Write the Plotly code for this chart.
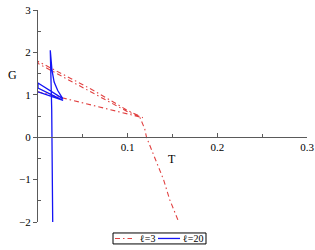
import plotly.graph_objects as go

# l=3 branch (red, dash-dot)
T_l3 = [0.156, 0.147, 0.140, 0.130, 0.121, 0.119, 0.115, 0.113, 0.100, 0.0614, 0.0,
        0.0, 0.0614, 0.100, 0.117, 0.0]
G_l3 = [-1.95, -1.48, -1.00, -0.45, 0.00, 0.20, 0.38, 0.50, 0.63, 1.11, 1.79,
        1.74, 1.04, 0.60, 0.46, 1.07]

# l=20 branch (blue, solid)
T_l20 = [0.0164, 0.0153, 0.0137, 0.0156, 0.0180, 0.0220, 0.0276, 0.0, 0.0, 0.0280, 0.0]
G_l20 = [-2.00, 0.64, 2.05, 1.58, 1.30, 1.10, 0.91, 1.28, 1.16, 0.87, 1.07]

x_ticks = [0.1, 0.2, 0.3]
x_ticklabels = ["0.1", "0.2", "0.3"]
y_ticks = [-2, -1, 0, 1, 2, 3]
y_ticklabels = ["\u22122", "\u22121", "0", "1", "2", "3"]
series_names = ["\u2113=3", "\u2113=20"]
series_colors = ["rgb(225,65,65)", "rgb(20,20,245)"]
series_dash = ["5px,3px,1.5px,3px", "solid"]
series_width = [1.1, 1.3]

font_family = "Liberation Serif, Times New Roman, serif"

W, H = 315, 250
ML, MR, MT, MB = 38, 8, 9.5, 28
PW, PH = W - ML - MR, H - MT - MB


def px2paper(px, py):
    return (px - ML) / PW, (H - MB - py) / PH


fig = go.Figure()
for T, G, nm, col, dsh, wd in zip([T_l3, T_l20], [G_l3, G_l20], series_names,
                                  series_colors, series_dash, series_width):
    fig.add_trace(go.Scatter(x=T, y=G, mode="lines", name=nm, showlegend=False,
                             line=dict(color=col, width=wd, dash=dsh)))

axis_col = "rgb(90,90,90)"
fig.update_layout(
    width=W, height=H,
    margin=dict(l=ML, r=MR, t=MT, b=MB, autoexpand=False),
    paper_bgcolor="white", plot_bgcolor="white",
    font=dict(family=font_family, size=11, color="black"),
    xaxis=dict(range=[0, 0.3], tickmode="array", tickvals=x_ticks, ticktext=x_ticklabels,
               showgrid=False, zeroline=False, showline=True, linecolor=axis_col, linewidth=1,
               anchor="free", position=0.4, ticks="inside", ticklen=4, tickcolor=axis_col,
               minor=dict(tickmode="array", tickvals=[0.05, 0.15, 0.25], ticks="inside",
                          ticklen=3, tickcolor=axis_col),
               tickfont=dict(size=11), automargin=False, ticklabeloverflow="allow",
               fixedrange=True),
    yaxis=dict(range=[-2, 3], tickmode="array", tickvals=y_ticks, ticktext=y_ticklabels,
               showgrid=False, zeroline=False, showline=True, linecolor=axis_col, linewidth=1,
               ticks="outside", ticklen=4, tickcolor=axis_col,
               minor=dict(tickmode="array", tickvals=[-1.5, -0.5, 0.5, 1.5, 2.5], ticks="inside",
                          ticklen=3, tickcolor=axis_col),
               tickfont=dict(size=11), automargin=False, ticklabeloverflow="allow",
               fixedrange=True),
    showlegend=False,
)

# axis titles
gx, gy = px2paper(12, 75)
fig.add_annotation(text="G", x=gx, y=gy, xref="paper", yref="paper", showarrow=False,
                   font=dict(size=12), xanchor="center", yanchor="middle")
tx, ty = px2paper(172, 159)
fig.add_annotation(text="T", x=tx, y=ty, xref="paper", yref="paper", showarrow=False,
                   font=dict(size=12), xanchor="center", yanchor="middle")

# legend box (drawn below the plot)
bx0, by0 = px2paper(113, 244)
bx1, by1 = px2paper(206, 233)
fig.add_shape(type="rect", xref="paper", yref="paper", x0=bx0, y0=by0, x1=bx1, y1=by1,
              line=dict(color="black", width=1), fillcolor="white")
legend_items = [(115, 132, 139), (158, 180, 182)]
for (lx0, lx1, tx0), nm, col, dsh, wd in zip(legend_items, series_names, series_colors,
                                             series_dash, series_width):
    ax0, ay = px2paper(lx0, 238.5)
    ax1, _ = px2paper(lx1, 238.5)
    fig.add_shape(type="line", xref="paper", yref="paper", x0=ax0, x1=ax1, y0=ay, y1=ay,
                  line=dict(color=col, width=wd, dash=dsh))
    atx, _ = px2paper(tx0, 238.5)
    fig.add_annotation(text=nm, x=atx, y=ay, xref="paper", yref="paper", showarrow=False,
                       font=dict(size=10), xanchor="left", yanchor="middle",
                       borderpad=0)

fig.write_html("out.html", config={"displayModeBar": False, "staticPlot": True},
               post_script="document.body.style.margin='0';document.body.style.padding='0';")
